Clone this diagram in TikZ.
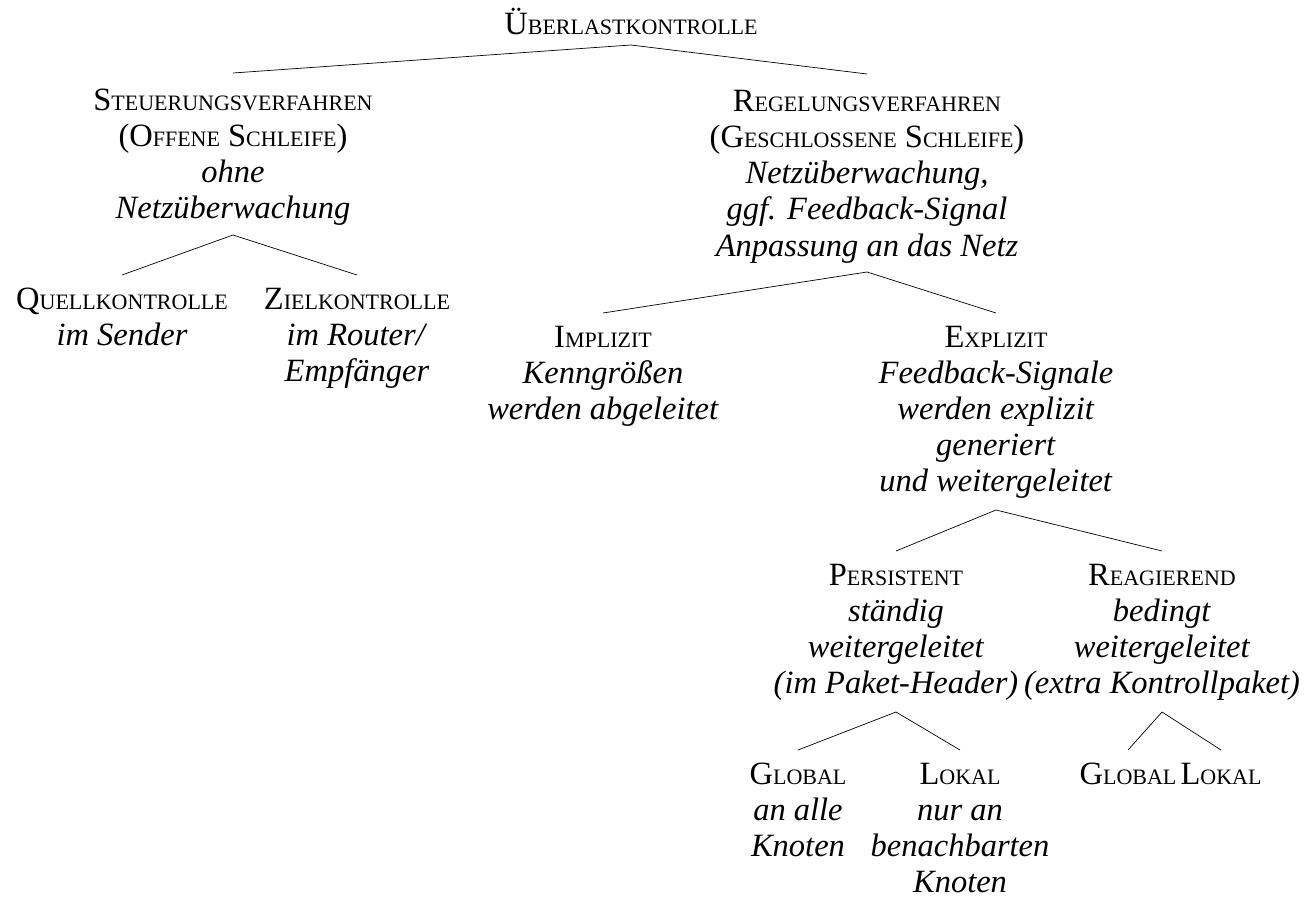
\documentclass[tikz,border=0pt]{standalone}
\usepackage{fontspec}
\setmainfont{Liberation Serif}
% small capitals: first letter at full size, the rest as reduced capitals
\newcommand\Sc[1]{{\fontsize{22}{36}\selectfont #1}}
% fixed space above the first baseline and below the last one,
% so that the tree edges meet the node borders
\newcommand\topgap{\rule{0pt}{34pt}}
\newcommand\botgap{\rule[-19pt]{0pt}{19pt}}
% first level hangs a little lower below its edges
\newcommand\topgapA{\rule{0pt}{38pt}}
\newcommand\botgapA{\rule[-16pt]{0pt}{16pt}}
\begin{document}
\begin{tikzpicture}[x=1pt,y=-1pt,
  every node/.style={inner sep=0pt, outer sep=0pt, align=center,
    font=\fontsize{32.5}{36}\selectfont},
  tn/.style={anchor=north},
  edge/.style={line width=0.7pt}]
\useasboundingbox (0,0) rectangle (1308,901);

% root
\node[anchor=south] (root) at (631,45)
  {Ü\Sc{BERLASTKONTROLLE}\rule[-10pt]{0pt}{10pt}};

% first level
\node[tn] (stv) at (233,73)
  {\topgapA S\Sc{TEUERUNGSVERFAHREN}\\(O\Sc{FFENE} S\Sc{CHLEIFE})\\
   \textit{ohne}\\\textit{Netzüberwachung}\botgapA};
\node[tn] (rgv) at (867,74)
  {\topgapA R\Sc{EGELUNGSVERFAHREN}\\(G\Sc{ESCHLOSSENE} S\Sc{CHLEIFE})\\
   \textit{Netzüberwachung,}\\\textit{ggf. Feedback-Signal}\\
   \textit{Anpassung an das Netz}\botgapA};

% open loop
\node[tn] (quell) at (122,275)
  {\topgap Q\Sc{UELLKONTROLLE}\\\textit{im Sender}\botgap};
\node[tn] (ziel) at (357,275)
  {\topgap Z\Sc{IELKONTROLLE}\\\textit{im Router/}\\\textit{Empfänger}\botgap};

% closed loop
\node[tn] (impl) at (603,313)
  {\topgap I\Sc{MPLIZIT}\\\textit{Kenngrößen}\\\textit{werden abgeleitet}\botgap};
\node[tn] (expl) at (996,313)
  {\topgap E\Sc{XPLIZIT}\\\textit{Feedback-Signale}\\\textit{werden explizit}\\
   \textit{generiert}\\\textit{und weitergeleitet}\botgap};

% explicit feedback
\node[tn] (pers) at (896,551)
  {\topgap P\Sc{ERSISTENT}\\\textit{ständig}\\\textit{weitergeleitet}\\
   \textit{(im Paket-Header)}\botgap};
\node[tn] (reag) at (1162,551)
  {\topgap R\Sc{EAGIEREND}\\\textit{bedingt}\\\textit{weitergeleitet}\\
   \textit{(extra Kontrollpaket)}\botgap};

% leaves
\node[tn] (globA) at (798,750)
  {\topgap G\Sc{LOBAL}\\\textit{an alle}\\\textit{Knoten}\botgap};
\node[tn] (lokA) at (960,750)
  {\topgap L\Sc{OKAL}\\\textit{nur an}\\\textit{benachbarten}\\\textit{Knoten}\botgap};
\node[tn] (globB) at (1128,750) {\topgap G\Sc{LOBAL}\botgap};
\node[tn] (lokB) at (1221,750) {\topgap L\Sc{OKAL}\botgap};

% edges
\foreach \p/\c in {root/stv, root/rgv, stv/quell, stv/ziel, rgv/impl, rgv/expl,
                   expl/pers, expl/reag, pers/globA, pers/lokA, reag/globB, reag/lokB}
  \draw[edge] (\p.south) -- (\c.north);
\end{tikzpicture}
\end{document}
